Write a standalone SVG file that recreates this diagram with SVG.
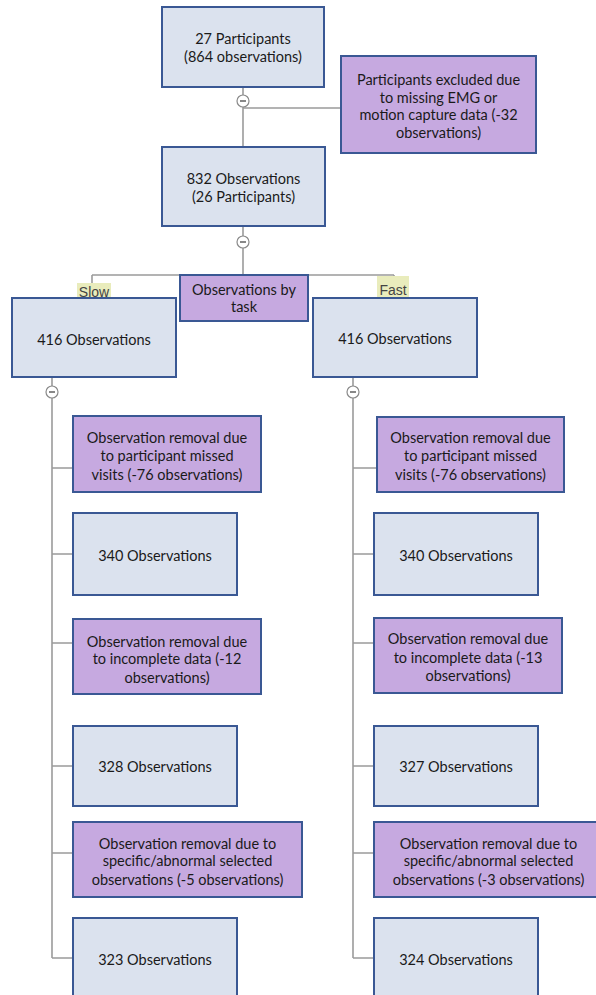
<svg xmlns="http://www.w3.org/2000/svg" width="596" height="995" viewBox="0 0 596 995">
<style>
.bx{fill:#dbe2ee;stroke:#3a5894;stroke-width:2}
.pu{fill:#c6a9e0;stroke:#3a5894;stroke-width:2}
.t{font-family:Lato,"Liberation Sans",sans-serif;font-size:14.5px;fill:#1a1a1a;text-anchor:middle;dominant-baseline:central}
.c{fill:none;stroke:#9b9b9b;stroke-width:1.6}
.tog{fill:#fff;stroke:#8a8a8a;stroke-width:1.2}
.dash{stroke:#555;stroke-width:1.4}
.lbl{font-family:"Liberation Sans",Arial,sans-serif;font-size:14px;fill:#444;text-anchor:middle}
.hl{fill:#e9ecbc}
</style>
<rect width="596" height="995" fill="#fff"/>
<g id="connectors">
<path class="c" d="M243 87V95M243 107V147M243 108H341"/>
<path class="c" d="M243 226V236M243 248V275M92 275H394M92 275V283M394 275V277"/>
<path class="c" d="M52 377V386M52 398V958M52 468H73M52 554H73M52 643H73M52 766H73M52 853H73M52 958H73"/>
<path class="c" d="M353 377V386M353 398V958M353 468H377M353 554H374M353 643H374M353 766H374M353 853H374M353 958H374"/>
<g id="toggles">
<circle class="tog" cx="243" cy="101" r="6"/><path class="dash" d="M240 101H246"/>
<circle class="tog" cx="243" cy="242" r="6"/><path class="dash" d="M240 242H246"/>
<circle class="tog" cx="52" cy="392" r="6"/><path class="dash" d="M49 392H55"/>
<circle class="tog" cx="353" cy="392" r="6"/><path class="dash" d="M350 392H356"/>
</g>
</g>
<g id="n-27participants">
<rect class="bx" x="162" y="7" width="162" height="80"/>
<text class="t" x="243" y="38">27 Participants</text>
<text class="t" x="243" y="56">(864 observations)</text>
</g>
<g id="n-excluded">
<rect class="pu" x="341" y="56" width="195" height="97"/>
<text class="t" x="438.5" y="79">Participants excluded due</text>
<text class="t" x="438.5" y="97">to missing EMG or</text>
<text class="t" x="438.5" y="114">motion capture data (-32</text>
<text class="t" x="438.5" y="132">observations)</text>
</g>
<g id="n-832">
<rect class="bx" x="162" y="147" width="163" height="79"/>
<text class="t" x="243.5" y="178">832 Observations</text>
<text class="t" x="243.5" y="196">(26 Participants)</text>
</g>
<g id="n-bytask">
<rect class="pu" x="180" y="275" width="128" height="46"/>
<text class="t" x="244" y="289">Observations by</text>
<text class="t" x="244" y="306">task</text>
</g>
<g id="lbl-slow">
<rect class="hl" x="77" y="283" width="34" height="15"/>
<text class="lbl" x="94" y="297">Slow</text>
</g>
<g id="lbl-fast">
<rect class="hl" x="377" y="276" width="32" height="21"/>
<text class="lbl" x="393" y="295">Fast</text>
</g>
<g id="n-slow-416">
<rect class="bx" x="12" y="298" width="164" height="79"/>
<text class="t" x="94" y="339">416 Observations</text>
</g>
<g id="n-fast-416">
<rect class="bx" x="313" y="298" width="164" height="79"/>
<text class="t" x="395" y="338">416 Observations</text>
</g>
<g id="n-slow-missed">
<rect class="pu" x="73" y="416" width="188" height="76"/>
<text class="t" x="167" y="437">Observation removal due</text>
<text class="t" x="167" y="455">to participant missed</text>
<text class="t" x="167" y="474">visits (-76 observations)</text>
</g>
<g id="n-slow-340">
<rect class="bx" x="73" y="513" width="164" height="82"/>
<text class="t" x="155" y="555">340 Observations</text>
</g>
<g id="n-slow-incomplete">
<rect class="pu" x="73" y="619" width="188" height="75"/>
<text class="t" x="167" y="641">Observation removal due</text>
<text class="t" x="167" y="658">to incomplete data (-12</text>
<text class="t" x="167" y="677">observations)</text>
</g>
<g id="n-slow-328">
<rect class="bx" x="73" y="726" width="164" height="80"/>
<text class="t" x="155" y="766">328 Observations</text>
</g>
<g id="n-slow-abnormal">
<rect class="pu" x="73" y="822" width="229" height="75"/>
<text class="t" x="187.5" y="843">Observation removal due to</text>
<text class="t" x="187.5" y="860">specific/abnormal selected</text>
<text class="t" x="187.5" y="879">observations (-5 observations)</text>
</g>
<g id="n-slow-323">
<rect class="bx" x="73" y="918" width="164" height="90"/>
<text class="t" x="155" y="959">323 Observations</text>
</g>
<g id="n-fast-missed">
<rect class="pu" x="377" y="417" width="187" height="75"/>
<text class="t" x="470.5" y="437">Observation removal due</text>
<text class="t" x="470.5" y="455">to participant missed</text>
<text class="t" x="470.5" y="474">visits (-76 observations)</text>
</g>
<g id="n-fast-340">
<rect class="bx" x="374" y="513" width="164" height="82"/>
<text class="t" x="456" y="555">340 Observations</text>
</g>
<g id="n-fast-incomplete">
<rect class="pu" x="374" y="618" width="188" height="75"/>
<text class="t" x="468" y="638">Observation removal due</text>
<text class="t" x="468" y="657">to incomplete data (-13</text>
<text class="t" x="468" y="675">observations)</text>
</g>
<g id="n-fast-327">
<rect class="bx" x="374" y="726" width="164" height="80"/>
<text class="t" x="456" y="766">327 Observations</text>
</g>
<g id="n-fast-abnormal">
<rect class="pu" x="374" y="822" width="229" height="75"/>
<text class="t" x="488.5" y="843">Observation removal due to</text>
<text class="t" x="488.5" y="860">specific/abnormal selected</text>
<text class="t" x="488.5" y="879">observations (-3 observations)</text>
</g>
<g id="n-fast-324">
<rect class="bx" x="374" y="918" width="164" height="90"/>
<text class="t" x="456" y="959">324 Observations</text>
</g>
</svg>
